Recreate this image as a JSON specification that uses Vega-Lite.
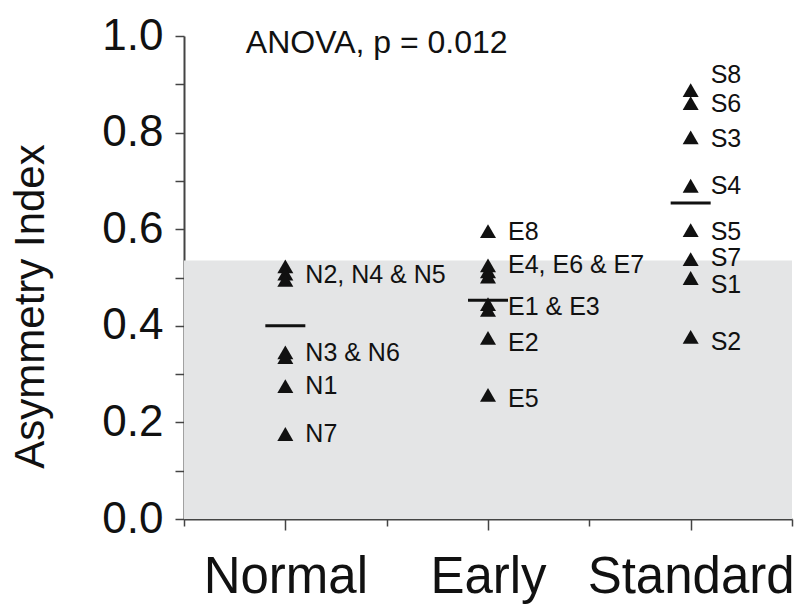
{
  "$schema": "https://vega.github.io/schema/vega-lite/v6.json",
  "autosize": "none",
  "width": 608,
  "height": 483,
  "padding": {"left": 184, "top": 36, "right": 8, "bottom": 97},
  "background": "white",
  "config": {
    "view": {"stroke": null},
    "font": "Liberation Sans"
  },
  "datasets": {
    "points": [
      {"group": "Normal", "pos": 1, "subject": "N2", "value": 0.523},
      {"group": "Normal", "pos": 1, "subject": "N4", "value": 0.508},
      {"group": "Normal", "pos": 1, "subject": "N5", "value": 0.495},
      {"group": "Normal", "pos": 1, "subject": "N3", "value": 0.345},
      {"group": "Normal", "pos": 1, "subject": "N6", "value": 0.335},
      {"group": "Normal", "pos": 1, "subject": "N1", "value": 0.275},
      {"group": "Normal", "pos": 1, "subject": "N7", "value": 0.176},
      {"group": "Early", "pos": 3, "subject": "E8", "value": 0.596},
      {"group": "Early", "pos": 3, "subject": "E4", "value": 0.525},
      {"group": "Early", "pos": 3, "subject": "E6", "value": 0.513},
      {"group": "Early", "pos": 3, "subject": "E7", "value": 0.502},
      {"group": "Early", "pos": 3, "subject": "E1", "value": 0.445},
      {"group": "Early", "pos": 3, "subject": "E3", "value": 0.433},
      {"group": "Early", "pos": 3, "subject": "E2", "value": 0.375},
      {"group": "Early", "pos": 3, "subject": "E5", "value": 0.257},
      {"group": "Standard", "pos": 5, "subject": "S8", "value": 0.888},
      {"group": "Standard", "pos": 5, "subject": "S6", "value": 0.861},
      {"group": "Standard", "pos": 5, "subject": "S3", "value": 0.79},
      {"group": "Standard", "pos": 5, "subject": "S4", "value": 0.69},
      {"group": "Standard", "pos": 5, "subject": "S5", "value": 0.598},
      {"group": "Standard", "pos": 5, "subject": "S7", "value": 0.538},
      {"group": "Standard", "pos": 5, "subject": "S1", "value": 0.499},
      {"group": "Standard", "pos": 5, "subject": "S2", "value": 0.377}
    ],
    "labels": [
      {"pos": 1, "label": "N2, N4 & N5", "value": 0.505},
      {"pos": 1, "label": "N3 & N6", "value": 0.344},
      {"pos": 1, "label": "N1", "value": 0.275},
      {"pos": 1, "label": "N7", "value": 0.176},
      {"pos": 3, "label": "E8", "value": 0.594},
      {"pos": 3, "label": "E4, E6 & E7", "value": 0.526},
      {"pos": 3, "label": "E1 & E3", "value": 0.439},
      {"pos": 3, "label": "E2", "value": 0.364},
      {"pos": 3, "label": "E5", "value": 0.248},
      {"pos": 5, "label": "S8", "value": 0.919},
      {"pos": 5, "label": "S6", "value": 0.859},
      {"pos": 5, "label": "S3", "value": 0.787},
      {"pos": 5, "label": "S4", "value": 0.689},
      {"pos": 5, "label": "S5", "value": 0.594},
      {"pos": 5, "label": "S7", "value": 0.540},
      {"pos": 5, "label": "S1", "value": 0.485},
      {"pos": 5, "label": "S2", "value": 0.366}
    ],
    "means": [
      {"group": "Normal", "pos": 1, "mean": 0.4},
      {"group": "Early", "pos": 3, "mean": 0.453},
      {"group": "Standard", "pos": 5, "mean": 0.654}
    ]
  },
  "layer": [
    {
      "data": {"values": [{"x0": 0, "x1": 6, "y0": 0, "y1": 0.535}]},
      "mark": {"type": "rect", "color": "#e4e5e6"},
      "encoding": {
        "x": {"field": "x0", "type": "quantitative", "scale": {"domain": [0, 6], "nice": false, "zero": false},
          "axis": {
            "title": null,
            "values": [0, 1, 2, 3, 4, 5, 6],
            "labelExpr": "datum.value == 1 ? 'Normal' : datum.value == 3 ? 'Early' : datum.value == 5 ? 'Standard' : ''",
            "labelFontSize": 51,
            "labelFont": "Liberation Sans",
            "labelColor": "#111",
            "labelPadding": 22,
            "labelLimit": 500,
            "labelFlush": false,
            "labelOverlap": false,
            "tickSize": {"condition": {"test": "datum.value % 2 == 1", "value": 11}, "value": 7},
            "tickColor": "#444",
            "tickWidth": 1.5,
            "domainColor": "#444",
            "domainWidth": 2,
            "grid": false
          }},
        "x2": {"field": "x1"},
        "y": {"field": "y0", "type": "quantitative", "scale": {"domain": [0, 1], "nice": false},
          "axis": {
            "title": "Asymmetry Index",
            "titleFontSize": 42,
            "titleFont": "Liberation Sans",
            "titleFontWeight": "normal",
            "titleColor": "#111",
            "titlePadding": 49,
            "titleY": 270,
            "titleAlign": "center",
            "values": [0, 0.1, 0.2, 0.3, 0.4, 0.5, 0.6, 0.7, 0.8, 0.9, 1.0],
            "labelExpr": "round(datum.value * 10) % 2 == 0 ? format(datum.value, '.1f') : ''",
            "labelFontSize": 44,
            "labelFont": "Liberation Sans",
            "labelColor": "#111",
            "labelPadding": 12,
            "labelFlush": false,
            "labelOverlap": false,
            "tickSize": 9,
            "tickColor": "#444",
            "tickWidth": 1.5,
            "domainColor": "#444",
            "domainWidth": 2,
            "grid": false
          }},
        "y2": {"field": "y1"}
      }
    },
    {
      "data": {"name": "points"},
      "mark": {"type": "point", "shape": "triangle-up", "filled": true, "size": 256, "color": "#111", "opacity": 1},
      "encoding": {
        "x": {"field": "pos", "type": "quantitative"},
        "y": {"field": "value", "type": "quantitative"}
      }
    },
    {
      "data": {"name": "means"},
      "mark": {"type": "tick", "orient": "horizontal", "size": 40, "thickness": 3, "color": "#111", "opacity": 1},
      "encoding": {
        "x": {"field": "pos", "type": "quantitative"},
        "y": {"field": "mean", "type": "quantitative"}
      }
    },
    {
      "data": {"name": "labels"},
      "mark": {"type": "text", "align": "left", "baseline": "middle", "dx": 20, "fontSize": 25, "font": "Liberation Sans", "color": "#111"},
      "encoding": {
        "x": {"field": "pos", "type": "quantitative"},
        "y": {"field": "value", "type": "quantitative"},
        "text": {"field": "label"}
      }
    },
    {
      "data": {"values": [{"x": 0.61, "y": 0.985, "t": "ANOVA, p = 0.012"}]},
      "mark": {"type": "text", "align": "left", "baseline": "middle", "fontSize": 32, "font": "Liberation Sans", "color": "#111"},
      "encoding": {
        "x": {"field": "x", "type": "quantitative"},
        "y": {"field": "y", "type": "quantitative"},
        "text": {"field": "t"}
      }
    }
  ]
}
